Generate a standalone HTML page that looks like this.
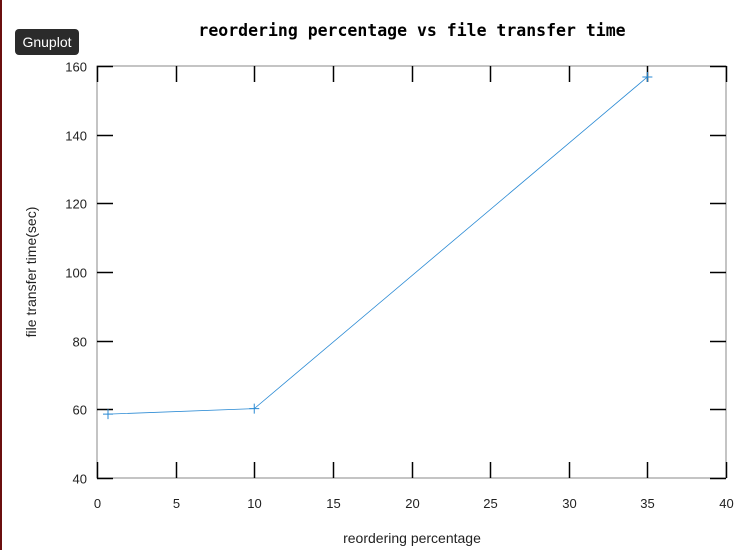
<!DOCTYPE html>
<html><head><meta charset="utf-8"><style>
body{margin:0;background:#fff;width:752px;height:550px;overflow:hidden;position:relative;font-family:"Liberation Sans",sans-serif}
#edge{position:absolute;left:0;top:0;width:2px;height:550px;background:#6b0f0f}
#badge{position:absolute;left:15px;top:29px;width:64px;height:26px;background:#2b2b2b;border-radius:4px;color:#fff;font-size:14px;line-height:26px;text-align:center}
</style></head><body>
<div id="edge"></div>
<div id="badge">Gnuplot</div>
<svg id="chart" width="752" height="550" style="position:absolute;left:0;top:0"></svg>
<script>
const xVals=[0.7,10,35];
const yVals=[58.6,60.2,156.8];
const xTicks=[0,5,10,15,20,25,30,35,40];
const yTicks=[40,60,80,100,120,140,160];
const L=97,R=726,T=66,B=478;
const xs=v=>L+(v-0)/(40-0)*(R-L);
const ys=v=>B-(v-40)/(160-40)*(B-T);
const svg=document.getElementById('chart');
const NS='http://www.w3.org/2000/svg';
function mk(t,a,txt){const e=document.createElementNS(NS,t);for(const k in a)e.setAttribute(k,a[k]);if(txt!==undefined)e.textContent=txt;svg.appendChild(e);return e;}
let e=mk('rect',{x:L,y:T,width:R-L,height:B-T,fill:'none',stroke:'#888','stroke-width':1});

xTicks.forEach(v=>{const x=Math.round(xs(v))+0.5;
 let a=mk('line',{x1:x,x2:x,y1:B,y2:B-16,stroke:'#000','stroke-width':1.5});
 let b=mk('line',{x1:x,x2:x,y1:T,y2:T+16,stroke:'#000','stroke-width':1.5});
 let t=mk('text',{x:x,y:B+30,'text-anchor':'middle','font-size':13,fill:'#222'},v);});
yTicks.forEach(v=>{const y=Math.round(ys(v))+0.5;
 let a=mk('line',{x1:L,x2:L+16,y1:y,y2:y,stroke:'#000','stroke-width':1.5});
 let b=mk('line',{x1:R,x2:R-16,y1:y,y2:y,stroke:'#000','stroke-width':1.5});
 let t=mk('text',{x:L-10,y:y+5,'text-anchor':'end','font-size':13,fill:'#222'},v);});
let p=mk('polyline',{points:xVals.map((v,i)=>xs(v)+','+ys(yVals[i])).join(' '),fill:'none',stroke:'#2a8ad4','stroke-width':0.8});

xVals.forEach((v,i)=>{const x=xs(v),y=ys(yVals[i]);
 let g=mk('path',{d:`M${x-5},${y}H${x+5}M${x},${y-5}V${y+5}`,stroke:'#2a8ad4','stroke-width':1});});
let tt=mk('text',{x:412,y:36,'text-anchor':'middle','font-size':16.5,'font-weight':'bold','font-family':'DejaVu Sans Mono, Liberation Mono, monospace',fill:'#000'},'reordering percentage vs file transfer time');

let xt=mk('text',{x:412,y:543,'text-anchor':'middle','font-size':14,fill:'#222'},'reordering percentage');

let yt=mk('text',{x:0,y:0,'text-anchor':'middle','font-size':14,fill:'#222',transform:'translate(36,272) rotate(-90)'},'file transfer time(sec)');

</script>
</body></html>
